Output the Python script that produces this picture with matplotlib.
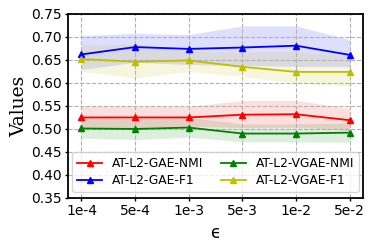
import matplotlib
matplotlib.use("Agg")
import matplotlib.pyplot as plt
import numpy as np

eps_labels = ["1e-4", "5e-4", "1e-3", "5e-3", "1e-2", "5e-2"]

gae_nmi = [0.525, 0.525, 0.525, 0.531, 0.532, 0.519]
gae_nmi_lo = [0.503, 0.503, 0.506, 0.503, 0.504, 0.497]
gae_nmi_hi = [0.550, 0.550, 0.549, 0.562, 0.562, 0.545]

gae_f1 = [0.662, 0.678, 0.674, 0.677, 0.681, 0.661]
gae_f1_lo = [0.629, 0.645, 0.640, 0.638, 0.636, 0.636]
gae_f1_hi = [0.703, 0.708, 0.705, 0.724, 0.724, 0.694]

vgae_nmi = [0.501, 0.500, 0.503, 0.490, 0.490, 0.492]
vgae_nmi_lo = [0.480, 0.477, 0.482, 0.472, 0.472, 0.471]
vgae_nmi_hi = [0.524, 0.522, 0.525, 0.511, 0.511, 0.513]

vgae_f1 = [0.652, 0.646, 0.649, 0.635, 0.624, 0.624]
vgae_f1_lo = [0.625, 0.611, 0.625, 0.614, 0.600, 0.593]
vgae_f1_hi = [0.683, 0.685, 0.669, 0.667, 0.669, 0.658]

series = [
    ("AT-L2-GAE-NMI", gae_nmi, gae_nmi_lo, gae_nmi_hi, "r"),
    ("AT-L2-GAE-F1", gae_f1, gae_f1_lo, gae_f1_hi, "b"),
    ("AT-L2-VGAE-NMI", vgae_nmi, vgae_nmi_lo, vgae_nmi_hi, "g"),
    ("AT-L2-VGAE-F1", vgae_f1, vgae_f1_lo, vgae_f1_hi, "y"),
]

fig = plt.figure(figsize=(3.74, 2.49), dpi=100)
ax = fig.add_axes([0.182, 0.205, 0.789, 0.739])

x = np.arange(len(eps_labels))
for label, mean, lo, hi, c in series:
    ax.plot(x, mean, color=c, marker="^", markersize=5, linewidth=1.3, label=label)
    ax.fill_between(x, lo, hi, color=c, alpha=0.13, linewidth=0)

ax.set_xticks(x)
ax.set_xticklabels(eps_labels)
ax.set_ylim(0.35, 0.75)
ax.set_yticks(np.arange(0.35, 0.751, 0.05))
ax.set_xlim(-0.25, 5.25)
ax.tick_params(labelsize=10, length=2.5, width=1, pad=2.2)
ax.grid(True, linestyle="--", color="#b0b0b0", linewidth=0.8)
for s in ax.spines.values():
    s.set_linewidth(1.3)

ax.set_xlabel("\u03f5", fontsize=12, labelpad=4)
ax.set_ylabel("Values", fontsize=13.5, family="DejaVu Serif", labelpad=2)

ax.legend(loc="lower center", ncol=2, fontsize=8.8, labelspacing=0.3,
          columnspacing=1.5, handlelength=2.0, borderpad=0.4)

fig.savefig("out.png", dpi=100)
